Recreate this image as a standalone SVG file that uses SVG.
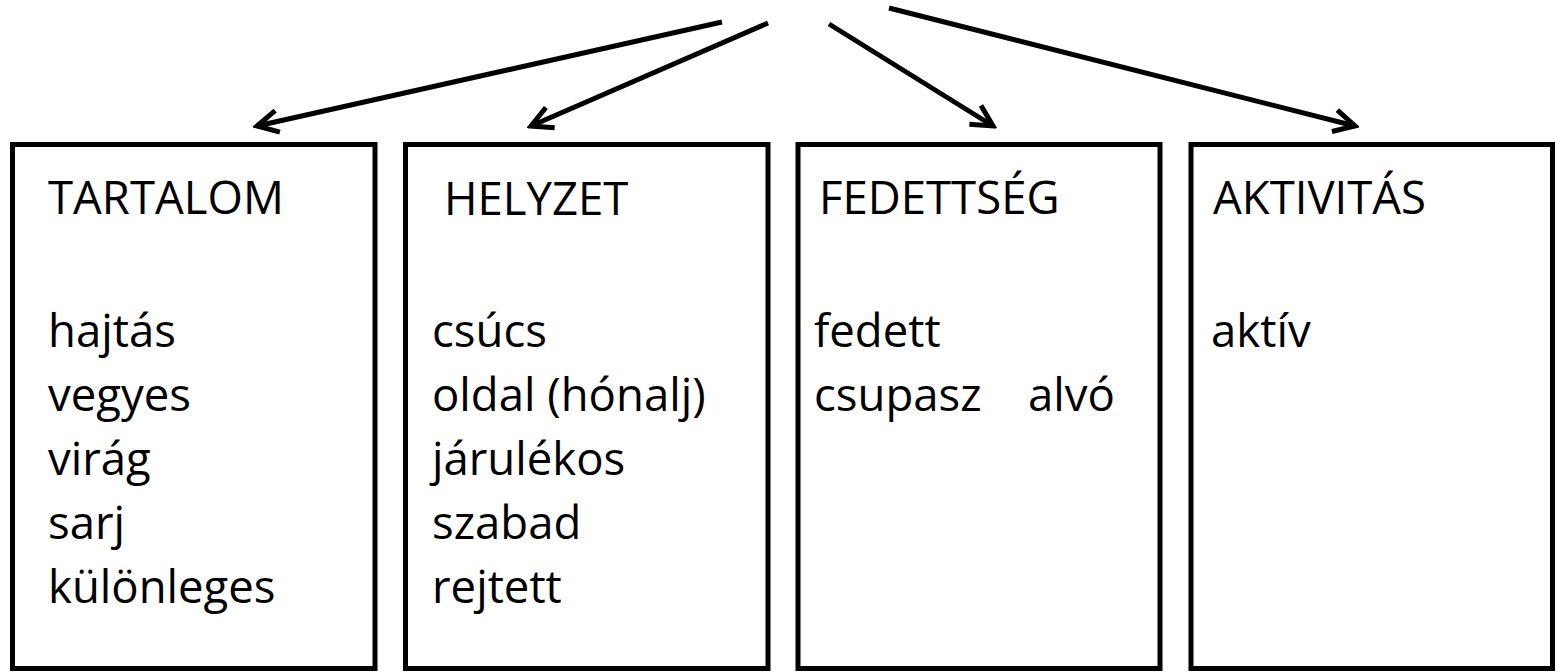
<svg xmlns="http://www.w3.org/2000/svg" width="1555" height="672" viewBox="0 0 1555 672">
  <style>
    .box { fill: #ffffff; stroke: #000000; stroke-width: 5; }
    .lbl { font-family: "Open Sans", "Liberation Sans", sans-serif; font-size: 45.5px; fill: #000000; }
    .link { stroke: #000000; stroke-width: 5; fill: none; marker-end: url(#head); }
  </style>
  <defs>
    <marker id="head" markerUnits="userSpaceOnUse" viewBox="-26 -15 30 30" refX="0" refY="0" markerWidth="30" markerHeight="30" orient="auto">
      <path d="M -21,-11 L 0,0 L -21,11" fill="none" stroke="#000000" stroke-width="5" stroke-linejoin="miter" stroke-linecap="butt"/>
    </marker>
  </defs>
  <rect width="1555" height="672" fill="#ffffff"/>

  <g id="connectors">
    <line class="link" x1="722" y1="22" x2="257" y2="126"/>
    <line class="link" x1="768" y1="23" x2="531" y2="126"/>
    <line class="link" x1="829" y1="24" x2="993" y2="126"/>
    <line class="link" x1="889" y1="8" x2="1355" y2="126"/>
  </g>

  <g id="tartalom">
    <rect class="box" x="12.5" y="144.5" width="362.5" height="524"/>
    <text class="lbl" x="48" y="214">TARTALOM</text>
    <text class="lbl" x="48" y="347">hajtás</text>
    <text class="lbl" x="48" y="411">vegyes</text>
    <text class="lbl" x="48" y="475">virág</text>
    <text class="lbl" x="48" y="539">sarj</text>
    <text class="lbl" x="48" y="603">különleges</text>
  </g>

  <g id="helyzet">
    <rect class="box" x="405.5" y="144.5" width="362.5" height="524"/>
    <text class="lbl" x="444" y="215">HELYZET</text>
    <text class="lbl" x="432" y="347">csúcs</text>
    <text class="lbl" x="432" y="411">oldal (hónalj)</text>
    <text class="lbl" x="432" y="475">járulékos</text>
    <text class="lbl" x="432" y="539">szabad</text>
    <text class="lbl" x="432" y="603">rejtett</text>
  </g>

  <g id="fedettseg">
    <rect class="box" x="798" y="144.5" width="362" height="524"/>
    <text class="lbl" x="819" y="214">FEDETTSÉG</text>
    <text class="lbl" x="814" y="347">fedett</text>
    <text class="lbl" x="814" y="411">csupasz</text>
    <text class="lbl" x="1028" y="411">alvó</text>
  </g>

  <g id="aktivitas">
    <rect class="box" x="1191" y="144.5" width="361.5" height="524"/>
    <text class="lbl" x="1213" y="214">AKTIVITÁS</text>
    <text class="lbl" x="1211" y="347">aktív</text>
  </g>
</svg>
